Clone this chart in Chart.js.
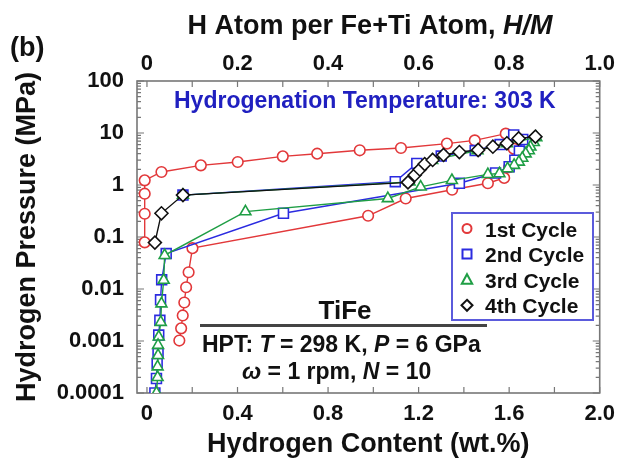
<!DOCTYPE html>
<html>
<head>
<meta charset="utf-8">
<script src="https://cdn.jsdelivr.net/npm/chart.js"></script>
<style>
  html, body { margin: 0; padding: 0; background: #fff; }
  #wrap { width: 623px; height: 464px; }
</style>
</head>
<body>
<div id="wrap"><canvas id="pct-chart" width="623" height="464"></canvas></div>
<script>
// PCT curves of HPT-processed TiFe, hydrogen content (wt.%) vs pressure (MPa)
const cycle1Wt = [-0.01, -0.01, -0.01, -0.01, 0.064, 0.238, 0.401, 0.60, 0.752, 0.94, 1.122, 1.325, 1.448, 1.585,
                  1.62, 1.60, 1.578, 1.506, 1.348, 1.143, 0.977, 0.201, 0.184, 0.173, 0.165, 0.158, 0.151, 0.143];
const cycle1P  = [0.079, 0.28, 0.68, 1.23, 1.78, 2.39, 2.77, 3.56, 4.0, 4.65, 5.15, 6.25, 7.2, 9.7,
                  5.0, 2.2, 1.37, 1.08, 0.81, 0.55, 0.256, 0.061, 0.021, 0.0108, 0.0055, 0.0031, 0.00175, 0.00102];

const cycle2Wt = [0.159, 1.097, 1.192, 1.30, 1.45, 1.56, 1.62,
                  1.66, 1.645, 1.625, 1.60, 1.54, 1.38, 0.603, 0.085,
                  0.065, 0.06, 0.057, 0.052, 0.049, 0.045, 0.042, 0.035];
const cycle2P  = [0.64, 1.16, 2.6, 3.6, 4.6, 6.0, 9.2,
                  7.5, 4.5, 3.0, 2.25, 1.7, 1.08, 0.286, 0.048,
                  0.015, 0.0062, 0.0025, 0.0013, 0.00058, 0.00037, 0.00019, 0.0001];

const cycle3Wt = [0.159, 1.16, 1.26, 1.46, 1.59, 1.72,
                  1.709, 1.694, 1.687, 1.673, 1.658, 1.643, 1.622, 1.593, 1.557, 1.506, 1.347, 1.209, 1.064, 0.435, 0.078,
                  0.074, 0.064, 0.061, 0.052, 0.049, 0.049, 0.047, 0.047, 0.042];
const cycle3P  = [0.64, 1.15, 3.0, 4.6, 6.3, 8.2,
                  6.6, 5.4, 4.6, 4.0, 3.3, 2.77, 2.4, 2.07, 1.66, 1.6, 1.23, 0.92, 0.55, 0.307, 0.0445,
                  0.0148, 0.0052, 0.0023, 0.0012, 0.00083, 0.00053, 0.00032, 0.0002, 0.0001];

const cycle4Wt = [0.035, 0.064, 0.159, 1.153, 1.183, 1.205, 1.227, 1.262, 1.31, 1.38, 1.463, 1.528, 1.59, 1.642, 1.716];
const cycle4P  = [0.078, 0.286, 0.64, 1.12, 1.56, 1.99, 2.53, 3.03, 3.78, 4.31, 4.71, 5.45, 6.34, 7.84, 8.5];

const cycleNames = ['1st Cycle', '2nd Cycle', '3rd Cycle', '4th Cycle'];
const wtTicks = [0, 0.4, 0.8, 1.2, 1.6, 2.0];
const hmTicks = [0, 0.2, 0.4, 0.6, 0.8, 1.0];
const pTicks = [0.0001, 0.001, 0.01, 0.1, 1, 10, 100];

const RED = '#e2383a', BLUE = '#2b2be0', GREEN = '#1f9e45', BLACK = '#111';
const FONT = "'Liberation Sans', Arial, Helvetica, sans-serif";
Chart.defaults.font.family = FONT;
Chart.defaults.color = '#111';

function cycleSet(label, wt, p, color, style, radius, order) {
  return {
    label: label,
    data: wt.map((w, i) => ({ x: w, y: p[i] })),
    borderColor: color,
    backgroundColor: '#fff',
    pointBackgroundColor: '#fff',
    pointBorderColor: color,
    pointStyle: style,
    pointRadius: radius,
    pointBorderWidth: 1.6,
    borderWidth: 1.4,
    tension: 0,
    order: order,
    xAxisID: 'x',
    yAxisID: 'y'
  };
}

// frame and inward tick marks
const frameTicks = {
  id: 'frameTicks',
  beforeDatasetsDraw(chart) {
    const { ctx, chartArea: a, scales } = chart;
    ctx.save();
    ctx.strokeStyle = '#777';
    ctx.lineWidth = 1.2;
    ctx.beginPath();
    for (let v = 0; v <= 2.0001; v += 0.2) {
      const px = scales.x.getPixelForValue(v);
      ctx.moveTo(px, a.bottom); ctx.lineTo(px, a.bottom - 6);
    }
    for (let v = 0; v <= 1.0001; v += 0.1) {
      const px = scales.xTop.getPixelForValue(v);
      ctx.moveTo(px, a.top); ctx.lineTo(px, a.top + 6);
    }
    for (let e = -4; e <= 2; e++) {
      for (let m = 1; m < 10; m++) {
        const val = m * Math.pow(10, e);
        if (val > 100.001) break;
        const py = scales.y.getPixelForValue(val);
        const len = m === 1 ? 7 : 4;
        ctx.moveTo(a.left, py); ctx.lineTo(a.left + len, py);
        ctx.moveTo(a.right, py); ctx.lineTo(a.right - len, py);
      }
    }
    ctx.stroke();
    ctx.lineWidth = 1.6;
    ctx.strokeRect(a.left, a.top, a.right - a.left, a.bottom - a.top);
    ctx.restore();
  }
};

function drawRuns(ctx, runs, x, y, size, align) {
  let total = 0;
  runs.forEach(r => {
    ctx.font = (r.i ? 'italic ' : '') + 'bold ' + size + 'px ' + FONT;
    r.w = ctx.measureText(r.t).width;
    total += r.w;
  });
  let cx = align === 'center' ? x - total / 2 : x;
  runs.forEach(r => {
    ctx.font = (r.i ? 'italic ' : '') + 'bold ' + size + 'px ' + FONT;
    ctx.fillText(r.t, cx, y);
    cx += r.w;
  });
}

function legendMarker(ctx, style, x, y, color) {
  ctx.strokeStyle = color;
  ctx.fillStyle = '#fff';
  ctx.lineWidth = 2;
  ctx.beginPath();
  if (style === 'circle') {
    ctx.arc(x, y, 4.5, 0, Math.PI * 2);
  } else if (style === 'rect') {
    ctx.rect(x - 4.5, y - 4.5, 9, 9);
  } else if (style === 'triangle') {
    ctx.moveTo(x, y - 5.5); ctx.lineTo(x + 5.2, y + 4); ctx.lineTo(x - 5.2, y + 4); ctx.closePath();
  } else {
    ctx.moveTo(x, y - 5.5); ctx.lineTo(x + 5.5, y); ctx.lineTo(x, y + 5.5); ctx.lineTo(x - 5.5, y); ctx.closePath();
  }
  ctx.fill();
  ctx.stroke();
}

const notes = {
  id: 'notes',
  afterDraw(chart) {
    const ctx = chart.ctx;
    ctx.save();
    ctx.textBaseline = 'alphabetic';
    ctx.textAlign = 'left';
    ctx.fillStyle = '#111';

    ctx.font = 'bold 27px ' + FONT;
    ctx.fillText('(b)', 10, 56);
    drawRuns(ctx, [{ t: 'H Atom per Fe+Ti Atom, ' }, { t: 'H/M', i: true }], 370, 34, 27, 'center');

    ctx.fillStyle = '#2020c0';
    ctx.font = 'bold 23px ' + FONT;
    ctx.fillText('Hydrogenation Temperature: 303 K', 174, 108);

    ctx.fillStyle = '#111';
    ctx.font = 'bold 26px ' + FONT;
    ctx.textAlign = 'center';
    ctx.fillText('TiFe', 345, 319);
    ctx.textAlign = 'left';
    ctx.strokeStyle = '#444';
    ctx.lineWidth = 3;
    ctx.beginPath(); ctx.moveTo(200, 325.5); ctx.lineTo(487, 325.5); ctx.stroke();
    drawRuns(ctx, [{ t: 'HPT: ' }, { t: 'T', i: true }, { t: ' = 298 K, ' }, { t: 'P', i: true }, { t: ' = 6 GPa' }], 202, 352, 23, 'left');
    drawRuns(ctx, [{ t: '\u03c9', i: true }, { t: ' = 1 rpm, ' }, { t: 'N', i: true }, { t: ' = 10' }], 242, 379, 23, 'left');

    // legend box
    ctx.strokeStyle = '#5b5bdc';
    ctx.lineWidth = 2;
    ctx.fillStyle = '#fff';
    ctx.fillRect(452, 213, 141, 107);
    ctx.strokeRect(452, 213, 141, 107);
    const styles = ['circle', 'rect', 'triangle', 'rectRot'];
    const colors = [RED, BLUE, GREEN, BLACK];
    cycleNames.forEach((name, i) => {
      const yc = 228.5 + i * 25.6;
      legendMarker(ctx, styles[i], 467, yc, colors[i]);
      ctx.fillStyle = '#111';
      ctx.font = 'bold 21px ' + FONT;
      ctx.fillText(name, 485, yc + 8);
    });
    ctx.restore();
  }
};

const fmtLinear = v => (v === 0 ? '0' : v.toFixed(1));

new Chart(document.getElementById('pct-chart'), {
  type: 'line',
  data: {
    datasets: [
      cycleSet(cycleNames[0], cycle1Wt, cycle1P, RED, 'circle', 5.3, 4),
      cycleSet(cycleNames[1], cycle2Wt, cycle2P, BLUE, 'rect', 7, 3),
      cycleSet(cycleNames[2], cycle3Wt, cycle3P, GREEN, 'triangle', 6.3, 2),
      cycleSet(cycleNames[3], cycle4Wt, cycle4P, BLACK, 'rectRot', 6.5, 1)
    ]
  },
  options: {
    responsive: false,
    animation: false,
    events: [],
    layout: { padding: { left: 0, right: 18, top: 0, bottom: 0 } },
    plugins: { legend: { display: false }, tooltip: { enabled: false } },
    scales: {
      x: {
        type: 'linear', position: 'bottom', min: -0.044, max: 2.0,
        afterBuildTicks: s => { s.ticks = wtTicks.map(v => ({ value: v })); },
        afterFit: s => { s.height = 71; },
        grid: { display: false, drawTicks: false },
        border: { display: false },
        ticks: { padding: 8, maxRotation: 0, autoSkip: false, font: { size: 22, weight: 'bold' }, callback: fmtLinear },
        title: { display: true, text: 'Hydrogen Content (wt.%)', font: { size: 27, weight: 'bold' }, padding: { top: 0, bottom: 3 } }
      },
      xTop: {
        type: 'linear', position: 'top', min: -0.022, max: 1.0,
        afterBuildTicks: s => { s.ticks = hmTicks.map(v => ({ value: v })); },
        afterFit: s => { s.height = 81; },
        grid: { display: false, drawTicks: false },
        border: { display: false },
        ticks: { padding: 4, maxRotation: 0, autoSkip: false, font: { size: 22, weight: 'bold' }, callback: fmtLinear }
      },
      y: {
        type: 'logarithmic', position: 'left', min: 0.0001, max: 100,
        afterBuildTicks: s => { s.ticks = pTicks.map(v => ({ value: v })); },
        afterFit: s => { s.width = 137; },
        grid: { display: false, drawTicks: false },
        border: { display: false },
        ticks: { padding: 13, autoSkip: false, font: { size: 22, weight: 'bold' }, callback: v => String(v) },
        title: { display: true, text: 'Hydrogen Pressure (MPa)', font: { size: 27, weight: 'bold' }, padding: { top: 11, bottom: 0 } }
      }
    }
  },
  plugins: [frameTicks, notes]
});
</script>
</body>
</html>
